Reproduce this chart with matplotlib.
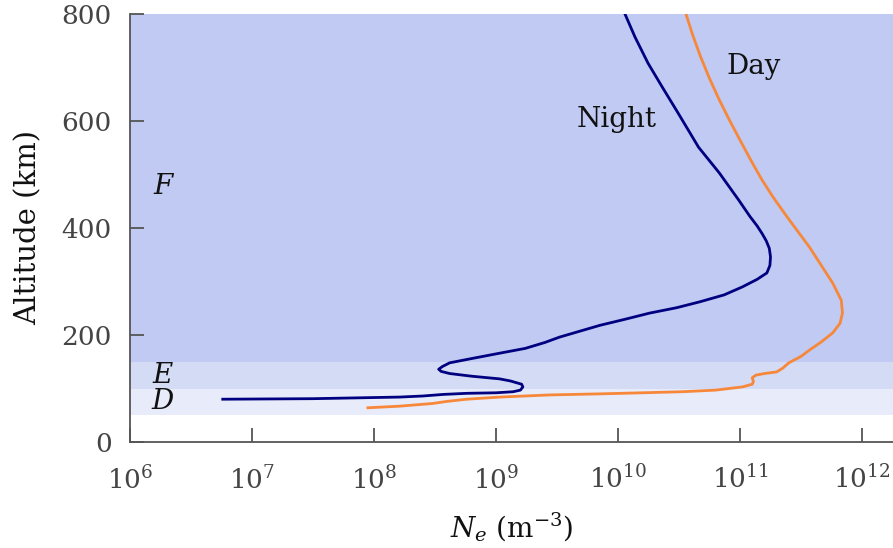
import numpy as np
import matplotlib.pyplot as plt
from matplotlib.ticker import FixedLocator, NullLocator

plt.rcParams['font.family'] = ['DejaVu Serif']
plt.rcParams['mathtext.fontset'] = 'dejavuserif'

# electron density profiles: log10(Ne) and altitude (km)
night_logne = [6.76, 7.50, 8.21, 8.40, 8.57, 8.76, 9.00, 9.14, 9.20, 9.22, 9.21,
               9.12, 9.03, 8.80, 8.62, 8.55, 8.53, 8.56, 8.62, 8.80, 9.03, 9.24,
               9.40, 9.52, 9.70, 9.85, 10.05, 10.26, 10.48, 10.67, 10.87, 11.02,
               11.14, 11.22, 11.245, 11.25, 11.24, 11.215, 11.18, 11.14, 11.08,
               10.99, 10.83, 10.66, 10.492, 10.361, 10.246, 10.139, 10.057]
night_alt = [80, 81, 84, 86, 89, 91, 92, 94, 97, 103, 108,
             114, 118, 123, 128, 132, 136, 141, 148, 156, 166, 175,
             186, 196, 208, 218, 229, 241, 251, 262, 275, 290,
             304, 316, 330, 346, 362, 376, 390, 404, 422,
             452, 503, 551, 615, 664, 708, 757, 800]

day_logne = [7.95, 8.21, 8.48, 8.60, 8.76, 9.03, 9.44, 9.85, 10.20, 10.53,
             10.80, 11.02, 11.10, 11.11, 11.10, 11.13, 11.20, 11.30, 11.35,
             11.40, 11.50, 11.57, 11.66, 11.76, 11.82, 11.84, 11.83, 11.76,
             11.57, 11.385, 11.27, 11.18, 11.105, 11.01, 10.917, 10.829,
             10.749, 10.677, 10.613, 10.557]
day_alt = [64, 67, 72, 76, 80, 84, 88, 90, 92, 94,
           97, 103, 108, 113, 120, 125, 128, 131, 138,
           148, 160, 172, 186, 204, 222, 241, 265, 297,
           364, 421, 458, 490, 520, 560, 600, 640,
           680, 720, 760, 800]

# ionospheric layers: name, lower and upper altitude (km), label height
layers = ['D', 'E', 'F']
layer_bottom = [50, 100, 150]
layer_top = [100, 150, 800]
layer_label_alt = [75, 125, 477]
layer_colors = ['#e8ebfa', '#d4dbf5', '#c0caf2']

xtick_exp = [6, 7, 8, 9, 10, 11, 12]
yticks = [0, 200, 400, 600, 800]

fig = plt.figure(figsize=(8.93, 5.48), dpi=100)
ax = fig.add_axes([0.1456, 0.1934, 0.8544, 0.7811])

for name, lo, hi, la, c in zip(layers, layer_bottom, layer_top, layer_label_alt, layer_colors):
    ax.axhspan(lo, hi, color=c, lw=0, zorder=0)
    ax.text(10 ** 6.27, la, name, style='italic', fontsize=20,
            ha='center', va='center', color='#111111')

ax.plot(10 ** np.array(night_logne), night_alt, color='#000080', lw=2,
        solid_joinstyle='round')
ax.plot(10 ** np.array(day_logne), day_alt, color='#f7883a', lw=2,
        solid_joinstyle='round')

ax.text(10 ** 9.99, 602, 'Night', fontsize=20, ha='center', va='center', color='#111111')
ax.text(10 ** 11.11, 701, 'Day', fontsize=20, ha='center', va='center', color='#111111')

ax.set_xscale('log')
ax.set_xlim(1e6, 10 ** 12.254)
ax.set_ylim(0, 800)
ax.xaxis.set_major_locator(FixedLocator([10.0 ** e for e in xtick_exp]))
ax.xaxis.set_minor_locator(NullLocator())
ax.set_xticklabels([r'$10^{%d}$' % e for e in xtick_exp])
ax.set_yticks(yticks)

for s in ['top', 'right']:
    ax.spines[s].set_visible(False)
for s in ['left', 'bottom']:
    ax.spines[s].set_color('#555555')
    ax.spines[s].set_linewidth(1.3)
ax.tick_params(direction='in', length=10, width=1.3, color='#555555',
               labelcolor='#444444', labelsize=19)
ax.tick_params(axis='x', pad=17)
ax.tick_params(axis='y', pad=13)

ax.set_xlabel(r'$N_e\ (\mathrm{m}^{-3})$', fontsize=20, color='#111111', labelpad=12)
ax.set_ylabel('Altitude (km)', fontsize=21, color='#111111', labelpad=14)

fig.savefig('out.png', dpi=100)
